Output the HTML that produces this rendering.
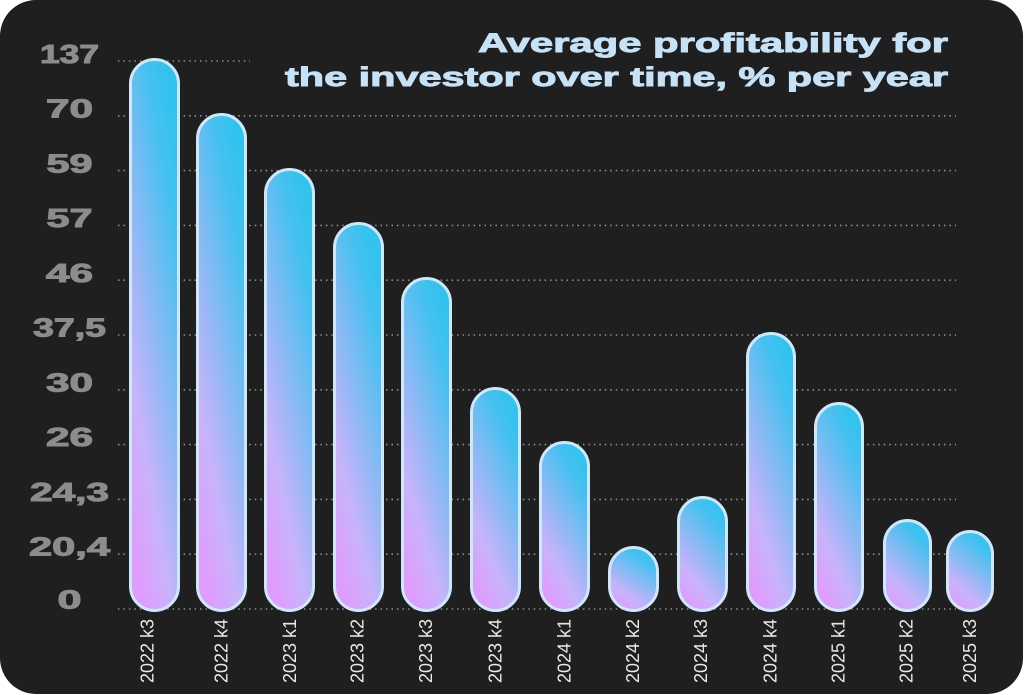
<!DOCTYPE html>
<html>
<head>
<meta charset="utf-8">
<style>
  html,body{margin:0;padding:0;background:#ffffff;}
  svg{display:block;}
</style>
</head>
<body>
<svg width="1024" height="695" viewBox="0 0 1024 695" xmlns="http://www.w3.org/2000/svg">
  <defs>
    <linearGradient id="g" x1="0.75" y1="0" x2="0.25" y2="1">
      <stop offset="0" stop-color="#30c3ee"/>
      <stop offset="0.18" stop-color="#45c1f0"/>
      <stop offset="0.4" stop-color="#78bcf3"/>
      <stop offset="0.6" stop-color="#a6b6f7"/>
      <stop offset="0.75" stop-color="#c8b4fb"/>
      <stop offset="1" stop-color="#e09bfe"/>
    </linearGradient>
  </defs>
  <rect x="0" y="0" width="1023" height="694" rx="36" ry="36" fill="#1f1f1f"/>

  <!-- gridlines -->
  <g stroke="#8e8e8e" stroke-width="1.6" stroke-dasharray="1.5 3.97" fill="none">
    <line x1="118" y1="61" x2="250" y2="61"/>
    <line x1="118" y1="115.8" x2="956" y2="115.8"/>
    <line x1="118" y1="170.6" x2="956" y2="170.6"/>
    <line x1="118" y1="225.4" x2="956" y2="225.4"/>
    <line x1="118" y1="280.2" x2="956" y2="280.2"/>
    <line x1="118" y1="335" x2="956" y2="335"/>
    <line x1="118" y1="389.8" x2="956" y2="389.8"/>
    <line x1="118" y1="444.6" x2="956" y2="444.6"/>
    <line x1="118" y1="499.4" x2="956" y2="499.4"/>
    <line x1="118" y1="554.2" x2="956" y2="554.2"/>
    <line x1="118" y1="609" x2="956" y2="609"/>
  </g>

  <!-- y labels -->
  <g font-family="Liberation Sans, sans-serif" font-weight="bold" font-size="26" fill="#8c8c8c" stroke="#8c8c8c" stroke-width="1" text-anchor="middle">
    <text x="69.5" y="63" textLength="59" lengthAdjust="spacingAndGlyphs">137</text>
    <text x="69.5" y="117.5" textLength="47" lengthAdjust="spacingAndGlyphs">70</text>
    <text x="69.5" y="172.3" textLength="46" lengthAdjust="spacingAndGlyphs">59</text>
    <text x="69.5" y="227.1" textLength="46" lengthAdjust="spacingAndGlyphs">57</text>
    <text x="69.5" y="281.9" textLength="47" lengthAdjust="spacingAndGlyphs">46</text>
    <text x="69.5" y="336.7" textLength="73" lengthAdjust="spacingAndGlyphs">37,5</text>
    <text x="69.5" y="391.3" textLength="47" lengthAdjust="spacingAndGlyphs">30</text>
    <text x="69.5" y="446" textLength="47" lengthAdjust="spacingAndGlyphs">26</text>
    <text x="69.5" y="500.9" textLength="79" lengthAdjust="spacingAndGlyphs">24,3</text>
    <text x="69.5" y="555.7" textLength="81" lengthAdjust="spacingAndGlyphs">20,4</text>
    <text x="69.5" y="608.5" textLength="24" lengthAdjust="spacingAndGlyphs">0</text>
  </g>

  <!-- title -->
  <g font-family="Liberation Sans, sans-serif" font-weight="bold" font-size="26.5" fill="#c6e2f7" stroke="#c6e2f7" stroke-width="0.9" text-anchor="end">
    <text x="948" y="52" textLength="470" lengthAdjust="spacingAndGlyphs">Average profitability for</text>
    <text x="948" y="86" textLength="663" lengthAdjust="spacingAndGlyphs">the investor over time, % per year</text>
  </g>

  <!-- bars -->
  <g fill="url(#g)" stroke="#cfe8f9" stroke-width="3">
    <rect x="130.5" y="59.5" width="48" height="551" rx="24" ry="24"/>
    <rect x="197.5" y="114.5" width="48" height="496" rx="24" ry="24"/>
    <rect x="265.5" y="169.5" width="48" height="441" rx="24" ry="24"/>
    <rect x="334.5" y="223.5" width="48" height="387" rx="24" ry="24"/>
    <rect x="402.5" y="278.5" width="48" height="332" rx="24" ry="24"/>
    <rect x="471.5" y="388.5" width="48" height="222" rx="24" ry="24"/>
    <rect x="540.5" y="442.5" width="48" height="168" rx="24" ry="24"/>
    <rect x="609.5" y="547.5" width="48" height="63" rx="24" ry="24"/>
    <rect x="678.5" y="497.5" width="48" height="113" rx="24" ry="24"/>
    <rect x="747.5" y="333.5" width="47" height="277" rx="23.5" ry="23.5"/>
    <rect x="815.5" y="403.5" width="47" height="207" rx="23.5" ry="23.5"/>
    <rect x="884.5" y="520.5" width="46" height="90" rx="23" ry="23"/>
    <rect x="947.5" y="531.5" width="45" height="79" rx="22.5" ry="22.5"/>
  </g>

  <!-- x labels -->
  <g font-family="Liberation Sans, sans-serif" font-size="18" fill="#e8e8e8" text-anchor="start">
    <text transform="translate(153.5,683) rotate(-90)">2022 k3</text>
    <text transform="translate(227.5,683) rotate(-90)">2022 k4</text>
    <text transform="translate(296,683) rotate(-90)">2023 k1</text>
    <text transform="translate(363.5,683) rotate(-90)">2023 k2</text>
    <text transform="translate(432,683) rotate(-90)">2023 k3</text>
    <text transform="translate(501.5,683) rotate(-90)">2023 k4</text>
    <text transform="translate(570.5,683) rotate(-90)">2024 k1</text>
    <text transform="translate(639,683) rotate(-90)">2024 k2</text>
    <text transform="translate(707,683) rotate(-90)">2024 k3</text>
    <text transform="translate(776.5,683) rotate(-90)">2024 k4</text>
    <text transform="translate(844.5,683) rotate(-90)">2025 k1</text>
    <text transform="translate(912.5,683) rotate(-90)">2025 k2</text>
    <text transform="translate(976,683) rotate(-90)">2025 k3</text>
  </g>
</svg>
</body>
</html>
